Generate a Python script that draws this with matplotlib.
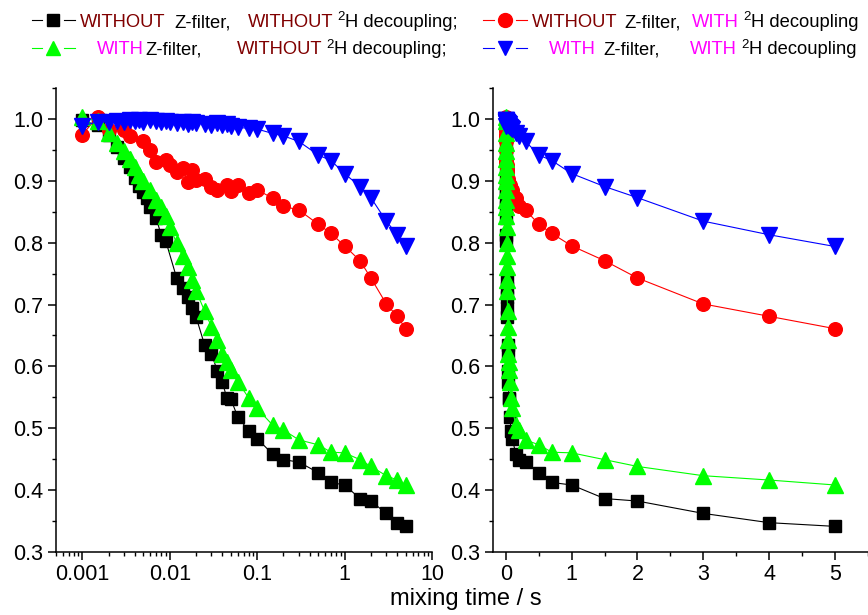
import matplotlib
matplotlib.use("Agg")
import matplotlib.pyplot as plt
from matplotlib.lines import Line2D
from matplotlib.ticker import MultipleLocator, LogLocator, FixedLocator, FixedFormatter, NullFormatter

plt.rcParams['font.family'] = ['Liberation Sans', 'DejaVu Sans']

W, H = 868, 615

# mixing times (s) and normalised intensities, one pair per series
t_black = [0.001, 0.0015, 0.002, 0.0025, 0.003, 0.0035, 0.004, 0.0045, 0.005, 0.0055, 0.006, 0.007,
           0.008, 0.009, 0.012, 0.014, 0.016, 0.018, 0.02, 0.025, 0.03, 0.035, 0.04, 0.045, 0.05,
           0.06, 0.08, 0.1, 0.15, 0.2, 0.3, 0.5, 0.7, 1, 1.5, 2, 3, 4, 5]
v_black = [0.998, 0.990, 0.975, 0.955, 0.937, 0.922, 0.905, 0.892, 0.882, 0.872, 0.858, 0.840,
           0.812, 0.803, 0.743, 0.727, 0.712, 0.695, 0.680, 0.635, 0.620, 0.593, 0.574, 0.549, 0.547,
           0.518, 0.496, 0.483, 0.458, 0.449, 0.445, 0.428, 0.412, 0.408, 0.386, 0.382, 0.362, 0.347, 0.341]

t_red = [0.001, 0.0015, 0.002, 0.003, 0.0035, 0.005, 0.006, 0.007, 0.009, 0.01, 0.012, 0.014,
         0.016, 0.018, 0.02, 0.025, 0.03, 0.035, 0.045, 0.05, 0.06, 0.08, 0.1, 0.15, 0.2, 0.3,
         0.5, 0.7, 1, 1.5, 2, 3, 4, 5]
v_red = [0.975, 1.004, 0.983, 0.983, 0.972, 0.964, 0.950, 0.931, 0.934, 0.926, 0.915, 0.921,
         0.899, 0.918, 0.902, 0.904, 0.891, 0.886, 0.894, 0.883, 0.894, 0.880, 0.886, 0.872, 0.859, 0.853,
         0.830, 0.815, 0.795, 0.771, 0.743, 0.701, 0.681, 0.661]

t_green = [0.001, 0.0015, 0.002, 0.0025, 0.003, 0.0035, 0.004, 0.0045, 0.005, 0.006, 0.007, 0.008,
           0.009, 0.01, 0.012, 0.014, 0.016, 0.018, 0.02, 0.025, 0.03, 0.035, 0.04, 0.045, 0.05,
           0.06, 0.08, 0.1, 0.15, 0.2, 0.3, 0.5, 0.7, 1, 1.5, 2, 3, 4, 5]
v_green = [1.003, 0.997, 0.978, 0.962, 0.948, 0.935, 0.922, 0.910, 0.900, 0.885, 0.870, 0.858,
           0.843, 0.825, 0.800, 0.778, 0.760, 0.740, 0.722, 0.690, 0.664, 0.643, 0.620, 0.607, 0.594,
           0.575, 0.549, 0.532, 0.505, 0.497, 0.481, 0.473, 0.461, 0.460, 0.449, 0.438, 0.423, 0.416, 0.408]

t_blue = [0.001, 0.0015, 0.002, 0.0025, 0.003, 0.0035, 0.004, 0.0045, 0.005, 0.006, 0.007, 0.008,
          0.009, 0.01, 0.012, 0.014, 0.016, 0.018, 0.02, 0.025, 0.03, 0.035, 0.04, 0.045, 0.05,
          0.06, 0.08, 0.1, 0.15, 0.2, 0.3, 0.5, 0.7, 1, 1.5, 2, 3, 4, 5]
v_blue = [0.989, 0.996, 0.995, 0.997, 0.996, 0.998, 0.997, 0.998, 0.996, 0.998, 0.997, 0.995,
          0.997, 0.996, 0.994, 0.996, 0.993, 0.995, 0.994, 0.993, 0.991, 0.994, 0.990, 0.992, 0.989,
          0.987, 0.985, 0.984, 0.977, 0.973, 0.964, 0.942, 0.933, 0.912, 0.891, 0.873, 0.835, 0.813, 0.794]

series = [
    (t_black, v_black, 'black', 's', 8.8),
    (t_red, v_red, '#ff0000', 'o', 9.8),
    (t_green, v_green, '#00ff00', '^', 11),
    (t_blue, v_blue, '#0000ff', 'v', 11),
]

fig = plt.figure(figsize=(W / 100, H / 100), dpi=100)
ax1 = fig.add_axes([56 / W, 1 - 551.7 / H, (432 - 56) / W, (551.7 - 88.3) / H])
ax2 = fig.add_axes([492.7 / W, 1 - 551.7 / H, (867.7 - 492.7) / W, (551.7 - 88.3) / H])

for ax in (ax1, ax2):
    for t, v, c, m, ms in series:
        ax.plot(t, v, color=c, lw=0.8, marker=m, ms=ms, mec=c, mfc=c)
    ax.set_ylim(0.3, 1.05)
    ax.yaxis.set_major_locator(MultipleLocator(0.1))
    ax.yaxis.set_minor_locator(MultipleLocator(0.05))
    ax.yaxis.set_major_formatter(plt.FormatStrFormatter('%.1f'))
    ax.spines['top'].set_visible(False)
    ax.spines['right'].set_visible(False)
    for s in ('left', 'bottom'):
        ax.spines[s].set_linewidth(1.1)
    ax.tick_params(which='major', direction='out', length=5.5, width=1.1, labelsize=15.5)
    ax.tick_params(which='minor', direction='out', length=3, width=1.0)
    ax.set_facecolor('none')

ax1.set_xscale('log')
ax1.set_xlim(0.0005, 10)
ax1.xaxis.set_major_locator(FixedLocator([0.001, 0.01, 0.1, 1, 10]))
ax1.xaxis.set_major_formatter(FixedFormatter(['0.001', '0.01', '0.1', '1', '10']))
ax1.xaxis.set_minor_locator(LogLocator(base=10, subs=range(2, 10), numticks=20))
ax1.xaxis.set_minor_formatter(NullFormatter())

ax2.set_xlim(-0.2, 5.5)
ax2.xaxis.set_major_locator(MultipleLocator(1))
ax2.xaxis.set_minor_locator(MultipleLocator(0.5))

fig.text(466 / W, 1 - 599 / H, 'mixing time / s', fontsize=17, ha='center', va='center')

# legend drawn by hand: short line, gap, marker, gap, short line
DR, MG = '#800000', '#ff00ff'
rows = [27, 54.5]
handles = [
    (32, 53, 75, 0, 'black', 's'),
    (483, 505, 527, 0, '#ff0000', 'o'),
    (32, 53, 75, 1, '#00ff00', '^'),
    (483, 505, 527, 1, '#0000ff', 'v'),
]
for x0, xm, x1, r, c, m in handles:
    yc = 1 - (rows[r] - 7) / H
    fig.add_artist(Line2D([x0 / W, (xm - 11) / W], [yc, yc], color=c, lw=0.8))
    fig.add_artist(Line2D([(xm + 11) / W, x1 / W], [yc, yc], color=c, lw=0.8))
    fig.add_artist(Line2D([xm / W], [yc], color=c, marker=m, ms=10 if m != 's' else 8.5,
                          mec=c, mfc=c, lw=0))

# (start x, text, colour); None for x means "right after the previous piece"
legend_text = [
    (0, [(80, 'WITHOUT', DR), (174, 'Z-filter,', 'black'), (248, 'WITHOUT', DR),
         (None, '2', 'sup'), (None, 'H decoupling;', 'black')]),
    (1, [(97, 'WITH', MG), (145, 'Z-filter,', 'black'), (237, 'WITHOUT', DR),
         (None, '2', 'sup'), (None, 'H decoupling;', 'black')]),
    (0, [(532, 'WITHOUT', DR), (624, 'Z-filter,', 'black'), (692, 'WITH', MG),
         (None, '2', 'sup'), (None, 'H decoupling', 'black')]),
    (1, [(549, 'WITH', MG), (603, 'Z-filter,', 'black'), (690, 'WITH', MG),
         (None, '2', 'sup'), (None, 'H decoupling', 'black')]),
]
renderer = fig.canvas.get_renderer()
for r, parts in legend_text:
    x_end = 0
    for x, s, c in parts:
        if x is None:
            x = x_end + (4 if c == 'sup' else 0.5)
        if c == 'sup':
            txt = fig.text(x / W, 1 - (rows[r] - 6.5) / H, s, fontsize=9.5, color='black', va='baseline')
        else:
            txt = fig.text(x / W, 1 - rows[r] / H, s, fontsize=13.2, color=c, va='baseline')
        x_end = txt.get_window_extent(renderer).x1

fig.savefig('out.png', dpi=100)
